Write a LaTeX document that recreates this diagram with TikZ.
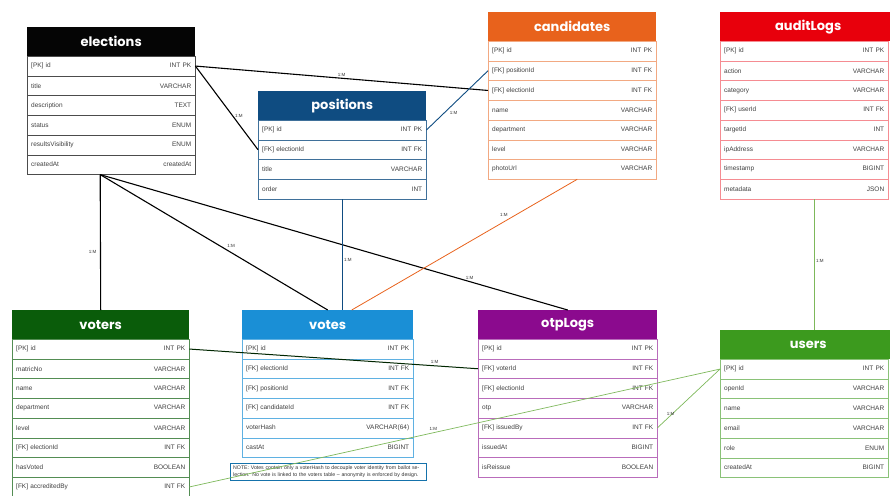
\documentclass[tikz,border=0pt]{standalone}
\usepackage{fontspec}
\setmainfont{Liberation Sans}
\newfontfamily\titlefont{Poppins}
\usetikzlibrary{positioning}

\definecolor{elecblack}{HTML}{050505}
\definecolor{posblue}{HTML}{0F4C81}
\definecolor{candorange}{HTML}{E8621C}
\definecolor{auditred}{HTML}{E8000C}
\definecolor{voterdkgreen}{HTML}{0A5C0A}
\definecolor{votesblue}{HTML}{1A8FD6}
\definecolor{otppurple}{HTML}{8B0A8E}
\definecolor{usergreen}{HTML}{3C9A1E}
\definecolor{linkgreen}{HTML}{7DB85A}

\begin{document}
\begin{tikzpicture}[x=1pt, y=-1pt,
  tbltitle/.style={fill=#1, text=white, font=\titlefont\bfseries\fontsize{13}{13}\selectfont, minimum height=29pt, inner sep=0pt, anchor=north west},
  tblrow/.style={draw=#1, fill=white, text=black!75, font=\fontsize{6.5}{7}\selectfont, minimum height=19.7pt, inner xsep=4pt, inner ysep=0pt, anchor=north west},
  link/.style={line width=1.1pt, black},
  card/.style={font=\fontsize{4.5}{5}\selectfont, inner sep=1.5pt, text=black!80}]
\useasboundingbox (0,0) rectangle (890,495);

% elections
\node[tbltitle=elecblack, minimum width=168pt] (elections) at (27,27) {elections};
\foreach \fld/\typ [count=\i] in {{[PK] id}/{INT PK}, title/VARCHAR, description/TEXT, status/ENUM, resultsVisibility/ENUM, createdAt/createdAt}
  \node[tblrow=black!70, text width=160pt] (elections-\i) at (27,{56+19.7*(\i-1)}) {\fld\hfill\typ};

% positions
\node[tbltitle=posblue, minimum width=168pt] (positions) at (258,91) {positions};
\foreach \fld/\typ [count=\i] in {{[PK] id}/{INT PK}, {[FK] electionId}/{INT FK}, title/VARCHAR, order/INT}
  \node[tblrow=posblue!80, text width=160pt] (positions-\i) at (258,{120+19.7*(\i-1)}) {\fld\hfill\typ};

% candidates
\node[tbltitle=candorange, minimum width=168pt] (candidates) at (488,12) {candidates};
\foreach \fld/\typ [count=\i] in {{[PK] id}/{INT PK}, {[FK] positionId}/{INT FK}, {[FK] electionId}/{INT FK}, name/VARCHAR, department/VARCHAR, level/VARCHAR, photoUrl/VARCHAR}
  \node[tblrow=candorange!55, text width=160pt] (candidates-\i) at (488,{41+19.7*(\i-1)}) {\fld\hfill\typ};

% auditLogs
\node[tbltitle=auditred, minimum width=176pt] (auditLogs) at (720,12) {auditLogs};
\foreach \fld/\typ [count=\i] in {{[PK] id}/{INT PK}, action/VARCHAR, category/VARCHAR, {[FK] userId}/{INT FK}, targetId/INT, ipAddress/VARCHAR, timestamp/BIGINT, metadata/JSON}
  \node[tblrow=auditred!45, text width=160pt] (auditLogs-\i) at (720,{41+19.7*(\i-1)}) {\fld\hfill\typ};

% voters
\node[tbltitle=voterdkgreen, minimum width=177pt] (voters) at (12,310) {voters};
\foreach \fld/\typ [count=\i] in {{[PK] id}/{INT PK}, matricNo/VARCHAR, name/VARCHAR, department/VARCHAR, level/VARCHAR, {[FK] electionId}/{INT FK}, hasVoted/BOOLEAN, {[FK] accreditedBy}/{INT FK}}
  \node[tblrow=voterdkgreen!70, text width=169pt] (voters-\i) at (12,{339+19.7*(\i-1)}) {\fld\hfill\typ};

% votes
\node[tbltitle=votesblue, minimum width=171pt] (votes) at (242,310) {votes};
\foreach \fld/\typ [count=\i] in {{[PK] id}/{INT PK}, {[FK] electionId}/{INT FK}, {[FK] positionId}/{INT FK}, {[FK] candidateId}/{INT FK}, voterHash/{VARCHAR(64)}, castAt/BIGINT}
  \node[tblrow=votesblue!70, text width=163pt] (votes-\i) at (242,{339+19.7*(\i-1)}) {\fld\hfill\typ};
\node[draw=votesblue!80!black, fill=white, text width=190pt, inner sep=3pt, anchor=north west, font=\fontsize{5.2}{6.4}\selectfont, text=black!80] (votesnote) at (230,463)
  {NOTE: Votes contain only a voterHash to decouple voter identity from ballot selection. No vote is linked to the voters table -- anonymity is enforced by design.};

% otpLogs
\node[tbltitle=otppurple, minimum width=179pt] (otpLogs) at (478,310) {otpLogs};
\foreach \fld/\typ [count=\i] in {{[PK] id}/{INT PK}, {[FK] voterId}/{INT FK}, {[FK] electionId}/{INT FK}, otp/VARCHAR, {[FK] issuedBy}/{INT FK}, issuedAt/BIGINT, isReissue/BOOLEAN}
  \node[tblrow=otppurple!60, text width=171pt] (otpLogs-\i) at (478,{339+19.7*(\i-1)}) {\fld\hfill\typ};

% users
\node[tbltitle=usergreen, minimum width=176pt] (users) at (720,330) {users};
\foreach \fld/\typ [count=\i] in {{[PK] id}/{INT PK}, openId/VARCHAR, name/VARCHAR, email/VARCHAR, role/ENUM, createdAt/BIGINT}
  \node[tblrow=usergreen!60, text width=160pt] (users-\i) at (720,{359+19.7*(\i-1)}) {\fld\hfill\typ};

% relations
\draw[link] (elections-1.east) -- node[card, pos=0.5, above] {1:M} (candidates-3.west);
\draw[link] (elections-1.east) -- node[card, pos=0.6, right] {1:M} (positions-2.west);
\draw[posblue, line width=0.9pt] (positions-1.east) -- node[card, pos=0.35, below right] {1:M} (candidates-2.west);
\draw[link] ([xshift=-11pt]elections-6.south) -- node[card, pos=0.57, left=2pt] {1:M} (voters.north);
\draw[link] ([xshift=-11pt]elections-6.south) -- node[card, pos=0.55, above right] {1:M} (votes.north);
\draw[link] ([xshift=-11pt]elections-6.south) -- node[card, pos=0.79, above] {1:M} (otpLogs.north);
\draw[posblue, line width=0.9pt] (positions-4.south) -- node[card, pos=0.55, right] {1:M} (positions-4.south |- votes.north);
\draw[candorange, line width=0.8pt] ([xshift=5pt]candidates-7.south) -- node[card, pos=0.3, above left] {1:M} ([xshift=24pt]votes.north);
\draw[black!85!green, line width=1pt] (voters-1.east) -- node[card, pos=0.85, above] {1:M} (otpLogs-2.west);
\draw[linkgreen, line width=0.7pt] (users-1.west) -- node[card, pos=0.54, above] {1:M} (voters-8.east);
\draw[linkgreen, line width=0.7pt] (users-1.west) -- node[card, pos=0.7, below left] {1:M} (otpLogs-5.east);
\draw[linkgreen, line width=0.8pt] ([xshift=10pt]auditLogs-8.south) -- node[card, pos=0.47, right] {1:M} ([xshift=10pt]auditLogs-8.south |- users.north);
\end{tikzpicture}
\end{document}
